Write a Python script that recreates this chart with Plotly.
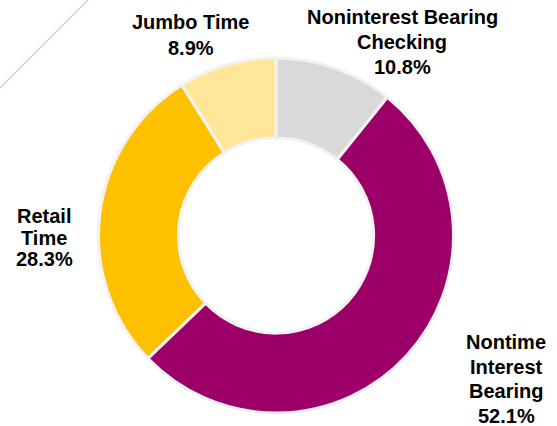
import plotly.graph_objects as go

labels = ["Noninterest Bearing Checking", "Nontime Interest Bearing", "Retail Time", "Jumbo Time"]
values = [10.8, 52.1, 28.3, 8.9]
label_lines = [["Noninterest Bearing", "Checking"], ["Nontime", "Interest", "Bearing"], ["Retail", "Time"], ["Jumbo Time"]]
colors = ["#D9D9D9", "#9C0068", "#FFC000", "#FFE699"]

W, H = 557, 426

fig = go.Figure()
fig.add_trace(go.Pie(
    labels=labels, values=values, sort=False, direction="clockwise", rotation=0,
    hole=0.55, textinfo="none", hoverinfo="label+percent",
    marker=dict(colors=colors, line=dict(color="#F2F2F2", width=3)),
    domain=dict(x=[98 / W, 454 / W], y=[1 - 413 / H, 1 - 58 / H]),
    showlegend=False,
))

# label block layout: centre x, first-line cap centre y, line spacing (pixels)
blocks = [(402, 15.5, 25), (506, 340.5, 24.5), (44, 215, 21), (191, 20.5, 25.5)]
for lines, v, (px, py, dy) in zip(label_lines, values, blocks):
    all_lines = lines + [f"{v:.1f}%"]
    for i, ln in enumerate(all_lines):
        yc = py + i * dy + 1.5
        fig.add_annotation(
            x=px / W, y=1 - yc / H, xref="paper", yref="paper",
            text=f"<b>{ln}</b>", showarrow=False,
            font=dict(family="Liberation Sans, Arial, sans-serif", size=20, color="#000000"),
            align="center", xanchor="center", yanchor="middle",
        )

fig.add_shape(type="line", xref="paper", yref="paper",
              x0=0, y0=1 - 88 / H, x1=88 / W, y1=1,
              line=dict(color="#E8C4DE", width=1.5))

fig.update_layout(
    width=W, height=H, margin=dict(l=0, r=0, t=0, b=0),
    paper_bgcolor="white", plot_bgcolor="white",
)
fig.write_html("out.html")
